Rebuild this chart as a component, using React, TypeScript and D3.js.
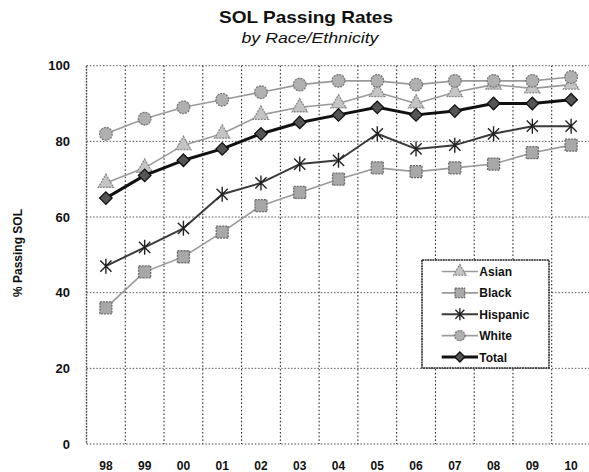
import React from "react";
import * as d3 from "d3";

const years = ["98", "99", "00", "01", "02", "03", "04", "05", "06", "07", "08", "09", "10"];
const asian = [69, 73, 79, 82, 87, 89, 90, 93, 90, 93, 95, 94, 95];
const black = [36, 45.5, 49.5, 56, 63, 66.5, 70, 73, 72, 73, 74, 77, 79];
const hispanic = [47, 52, 57, 66, 69, 74, 75, 82, 78, 79, 82, 84, 84];
const white = [82, 86, 89, 91, 93, 95, 96, 96, 95, 96, 96, 96, 97];
const total = [65, 71, 75, 78, 82, 85, 87, 89, 87, 88, 90, 90, 91];
const yTicks = [0, 20, 40, 60, 80, 100];
const seriesNames = ["Asian", "Black", "Hispanic", "White", "Total"];

const W = 589;
const H = 472;
const left = 86.5;
const right = 590.5;
const top = 65.7;
const bottom = 444;

type Style = {
  stroke: string;
  width: number;
  marker: "triangle" | "square" | "star" | "circle" | "diamond";
  fill: string;
  mstroke: string;
  size: number;
};

const styles: Record<string, Style> = {
  Asian: { stroke: "#9a9a9a", width: 1.6, marker: "triangle", fill: "#c4c4c4", mstroke: "#888", size: 13 },
  Black: { stroke: "#9a9a9a", width: 1.6, marker: "square", fill: "#a8a8a8", mstroke: "#6a6a6a", size: 13 },
  Hispanic: { stroke: "#3a3a3a", width: 2, marker: "star", fill: "none", mstroke: "#222", size: 15 },
  White: { stroke: "#9a9a9a", width: 1.6, marker: "circle", fill: "#b0b0b0", mstroke: "#777", size: 13 },
  Total: { stroke: "#111", width: 3, marker: "diamond", fill: "#555", mstroke: "#111", size: 12.5 },
};

const dataBy: Record<string, number[]> = {
  Asian: asian,
  Black: black,
  Hispanic: hispanic,
  White: white,
  Total: total,
};

function Marker({ x, y, s }: { x: number; y: number; s: Style }) {
  const r = s.size / 2;
  if (s.marker === "star") {
    const d = `M${x - r * 0.75},${y - r * 0.75}L${x + r * 0.75},${y + r * 0.75}M${x - r * 0.75},${y + r * 0.75}L${x + r * 0.75},${y - r * 0.75}M${x},${y - r}L${x},${y + r}`;
    return <path d={d} stroke={s.mstroke} strokeWidth={1.4} fill="none" />;
  }
  let sym: d3.SymbolType = d3.symbolSquare;
  let size = s.size * s.size * 0.85;
  let rot = 0;
  if (s.marker === "triangle") {
    sym = d3.symbolTriangle;
    size = s.size * s.size * 0.6;
  } else if (s.marker === "circle") {
    sym = d3.symbolCircle;
    size = s.size * s.size * 0.75;
  } else if (s.marker === "diamond") {
    sym = d3.symbolSquare;
    size = s.size * s.size * 0.5;
    rot = 45;
  }
  const p = d3.symbol().type(sym).size(size)() || "";
  return (
    <path
      d={p}
      transform={`translate(${x},${y}) rotate(${rot})`}
      fill={s.fill}
      stroke={s.mstroke}
      strokeWidth={1.3}
      strokeDasharray={s.marker === "diamond" ? undefined : "2,1"}
    />
  );
}

export default function App() {
  const x = d3.scaleBand<string>().domain(years).range([left, right]).padding(0);
  const y = d3.scaleLinear().domain([0, 100]).range([bottom, top]);
  const cx = (d: string) => (x(d) as number) + x.bandwidth() / 2;

  const line = d3
    .line<number>()
    .x((_, i) => cx(years[i]))
    .y((v) => y(v));

  const drawOrder = ["Black", "Hispanic", "Asian", "White", "Total"];
  const legendX0 = 441.7;
  const legendX1 = 478;
  const legendY = d3.scalePoint<string>().domain(seriesNames).range([271.5, 357]);

  return (
    <svg
      width={W}
      height={H}
      style={{ position: "absolute", left: 0, top: 0, background: "#fff" }}
      fontFamily="Arial, 'Liberation Sans', Helvetica, sans-serif"
    >
      <rect x={0} y={0} width={W} height={H} fill="#fff" />
      {/* title */}
      <text x={306} y={22.7} textAnchor="middle" fontSize={17} fontWeight="bold" textLength={174} lengthAdjust="spacingAndGlyphs" fill="#111">
        SOL Passing Rates
      </text>
      <text x={310} y={43} textAnchor="middle" fontSize={14} fontStyle="italic" textLength={137} lengthAdjust="spacingAndGlyphs" fill="#111">
        by Race/Ethnicity
      </text>

      {/* horizontal gridlines */}
      {yTicks.map((t) => (
        <line
          key={"h" + t}
          x1={left}
          x2={right}
          y1={y(t)}
          y2={y(t)}
          stroke={t === 0 ? "#444" : "#555"}
          strokeWidth={1}
          strokeDasharray="1.5,1.8"
        />
      ))}
      {/* vertical gridlines */}
      {years.map((yr, i) => (
        <line
          key={"v" + yr}
          x1={(x(yr) as number)}
          x2={(x(yr) as number)}
          y1={top}
          y2={bottom}
          stroke={i === 0 ? "#555" : "#111"}
          strokeWidth={i === 0 ? 1.5 : 1}
          strokeDasharray={i === 0 ? "2,1" : "1.5,2.2"}
        />
      ))}

      {/* y tick labels */}
      {yTicks.map((t) => (
        <text key={"yl" + t} x={70} y={y(t)} dy="0.36em" textAnchor="end" fontSize={13} fontWeight="bold" fill="#111">
          {t}
        </text>
      ))}
      {/* x tick labels */}
      {years.map((yr) => (
        <text key={"xl" + yr} x={cx(yr)} y={470} textAnchor="middle" fontSize={12} fontWeight="bold" fill="#111">
          {yr}
        </text>
      ))}
      {/* y axis title */}
      <text transform="translate(21.5,253) rotate(-90)" textAnchor="middle" fontSize={12} fontWeight="bold" fill="#111">
        % Passing SOL
      </text>

      {/* series */}
      {drawOrder.map((name) => {
        const s = styles[name];
        const vals = dataBy[name];
        return (
          <g key={name}>
            <path d={line(vals) || ""} fill="none" stroke={s.stroke} strokeWidth={s.width} strokeLinejoin="round" />
            {vals.map((v, i) => (
              <Marker key={i} x={cx(years[i])} y={y(v)} s={s} />
            ))}
          </g>
        );
      })}

      {/* legend */}
      <rect x={422} y={260} width={127} height={108} fill="#fff" stroke="#222" strokeWidth={1.5} strokeDasharray="2,0.6" />
      {seriesNames.map((name) => {
        const s = styles[name];
        const ly = legendY(name) as number;
        return (
          <g key={"lg" + name}>
            <line x1={legendX0} x2={legendX1} y1={ly} y2={ly} stroke={s.stroke} strokeWidth={s.width} />
            <Marker x={(legendX0 + legendX1) / 2} y={ly} s={{ ...s, size: s.size * 0.8 }} />
            <text x={479.3} y={ly + 4.5} fontSize={12} fontWeight="bold" fill="#111">
              {name}
            </text>
          </g>
        );
      })}
    </svg>
  );
}
